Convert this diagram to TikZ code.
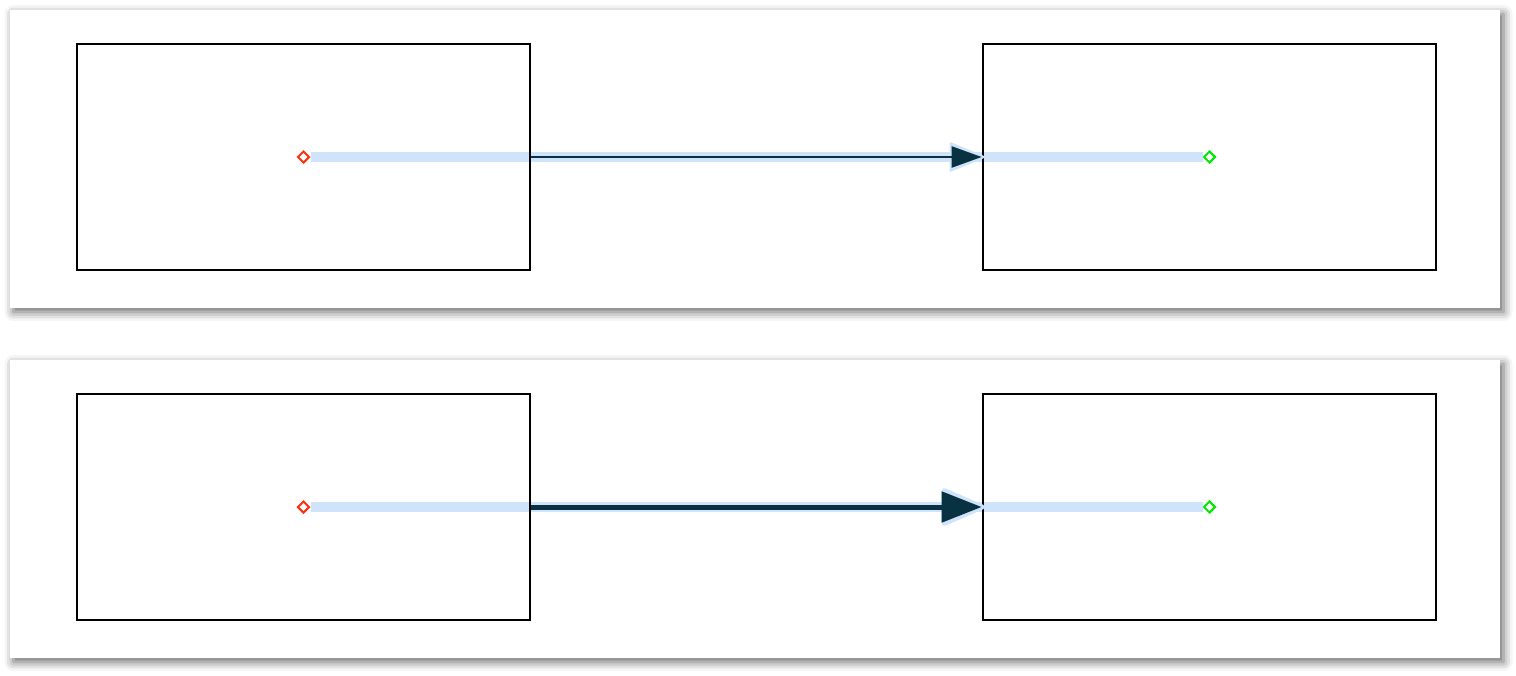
\documentclass[tikz,border=0pt]{standalone}
\usepackage{xcolor}
\usepackage{tikz}
\usetikzlibrary{arrows.meta,backgrounds,shapes.geometric,shadows.blur}
\definecolor{trackblue}{RGB}{207,228,250}
\definecolor{linkdark}{RGB}{8,50,66}
\definecolor{srcred}{RGB}{255,48,16}
\definecolor{dstgreen}{RGB}{0,235,0}
\tikzset{
  panel/.style={fill=white, blur shadow={shadow xshift=0.07cm, shadow yshift=-0.08cm, shadow blur radius=0.18cm, shadow opacity=60}},
  box/.style={draw, line width=0.055cm, minimum width=9.06cm, minimum height=4.52cm, inner sep=0pt},
  marker/.style={diamond, draw, fill=white, line width=0.04cm, minimum size=0.24cm, inner sep=0pt},
  track/.style={draw=trackblue, line width=0.2cm},        % highlight from centre to centre
  linkA/.style={draw=linkdark, line width=0.045cm, -{Triangle[length=0.6cm, width=0.42cm]}},
  haloA/.style={draw=trackblue, line width=0.045cm, shorten >=-0.06cm, -{Triangle[length=0.74cm, width=0.6cm, round]}},
  linkB/.style={draw=linkdark, line width=0.1cm, -{Triangle[length=0.8cm, width=0.6cm]}},
  haloB/.style={draw=trackblue, line width=0.1cm, shorten >=-0.06cm, -{Triangle[length=0.94cm, width=0.78cm, round]}}
}
% #1 panel name, #2 vertical offset (px), #3 arrow variant
\newcommand{\DrawPanel}[3]{%
  \node[box] (L#1) at (303.5,{157+#2}) {};
  \node[box] (R#1) at (1209.5,{157+#2}) {};
  \node[marker, draw=srcred] (S#1) at (L#1.center) {};
  \node[marker, draw=dstgreen] (T#1) at (R#1.center) {};
  \begin{scope}[on background layer]
    \fill[panel] (10,{10+#2}) rectangle (1500,{308+#2});
    \draw[track] (S#1) -- (T#1);
  \end{scope}
  % connector between the two boxes
  \draw[halo#3] (L#1) -- (R#1);
  \draw[link#3] (L#1) -- (R#1);
}

\begin{document}
\begin{tikzpicture}[x=0.02cm, y=-0.02cm]
  \useasboundingbox (0,0) rectangle (1516,676);
  \DrawPanel{1}{0}{A}
  \DrawPanel{2}{350}{B}
\end{tikzpicture}
\end{document}
